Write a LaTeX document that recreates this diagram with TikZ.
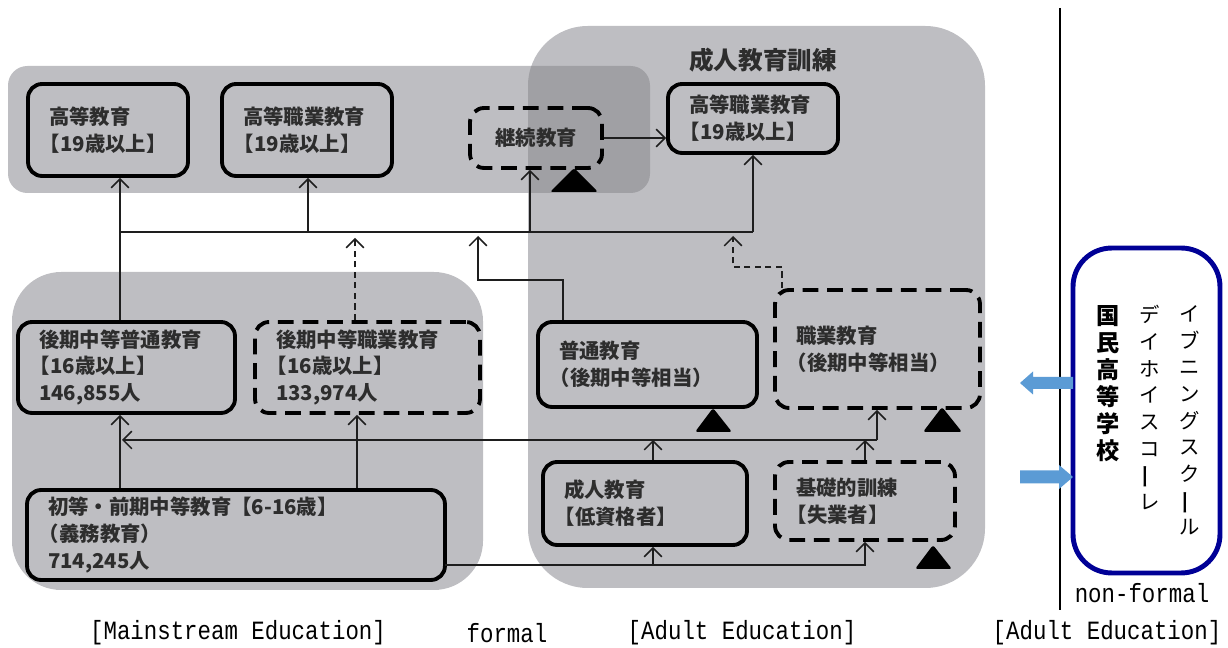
\documentclass[tikz,border=0pt]{standalone}
\usepackage{fontspec}
\usepackage{graphicx}
\usetikzlibrary{arrows.meta}
\newfontfamily\jp{Noto Sans CJK JP}
\newfontfamily\labfont{Liberation Mono}[FakeStretch=0.85]
\hfuzz=40pt \hbadness=10000
\definecolor{bgA}{RGB}{190,190,194}
\definecolor{bgB}{RGB}{160,160,164}
\definecolor{txt}{RGB}{45,45,45}
\definecolor{lk}{RGB}{30,30,30}
\definecolor{navyb}{RGB}{0,0,150}
\definecolor{arrb}{RGB}{91,155,213}
\newcommand\lb{\leavevmode\kern-0.45em}
\newcommand\vbar{\rotatebox[origin=c]{90}{\scalebox{1.25}[1.3]{ー}}}
\tikzset{
  sbox/.style={draw=black, line width=2.2pt, rounded corners=8pt, align=left,
    inner xsep=0.42cm, font=\jp\bfseries\fontsize{11.6}{15.3}\selectfont, text=txt},
  dbox/.style={sbox, dash pattern=on 9pt off 5pt},
  plain/.style={line width=0.9pt, draw=lk},
  link/.style={plain, -{Straight Barb[length=5pt,width=10pt,line width=0.9pt]}},
  dlink/.style={link, dash pattern=on 3.5pt off 2.5pt},
  tri/.style={fill=black, rounded corners=1.5pt},
  lab/.style={font=\labfont\fontsize{15}{18}\selectfont, text=black, inner sep=0pt},
  vcol/.style={font=\jp\fontsize{11.6}{15.2}\selectfont, align=center, anchor=north, inner sep=0pt, text=black},
}
\begin{document}
\begin{tikzpicture}[x=0.02cm,y=-0.02cm]
\useasboundingbox (0,0) rectangle (1228,648);
% backgrounds
\fill[bgA, rounded corners=11pt] (8,66) rectangle (650,193);
\fill[bgA, rounded corners=34pt] (528,26) rectangle (985,588);
\fill[bgA, rounded corners=28pt] (12,272) rectangle (483,590);
\begin{scope}
  \clip[rounded corners=34pt] (528,26) rectangle (985,588);
  \fill[bgB, rounded corners=11pt] (8,66) rectangle (650,193);
\end{scope}
\node[font=\jp\bfseries\fontsize{14}{16}\selectfont, text=txt] (title) at (763,60) {成人教育訓練};
% boxes
\node[sbox, minimum width=3.2cm, minimum height=1.84cm, text width=2.36cm] (hedu) at (108,130) {高等教育\\\lb【19歳以上】};
\node[sbox, minimum width=3.4cm, minimum height=1.84cm, text width=2.56cm] (hvoc) at (307,130) {高等職業教育\\\lb【19歳以上】};
\node[dbox, minimum width=2.64cm, minimum height=1.2cm, align=center] (cont) at (536,138) {継続教育};
\node[sbox, minimum width=3.4cm, minimum height=1.38cm, text width=2.56cm] (avoc) at (753,118.5) {高等職業教育\\\lb【19歳以上】};
\node[sbox, minimum width=4.34cm, minimum height=1.82cm, text width=3.5cm] (usg) at (126.5,367.5) {後期中等普通教育\\\lb【16歳以上】\\146,855人};
\node[dbox, minimum width=4.5cm, minimum height=1.82cm, text width=3.66cm] (usv) at (367.5,367.5) {後期中等職業教育\\\lb【16歳以上】\\133,974人};
\node[sbox, minimum width=8.36cm, minimum height=1.8cm, text width=7.52cm] (prim) at (236,535) {初等・前期中等教育【6-16歳】\\\lb（義務教育）\\714,245人};
\node[sbox, minimum width=4.38cm, minimum height=1.7cm, text width=3.54cm] (gen) at (647.5,364.5) {普通教育\\\lb（後期中等相当）};
\node[dbox, minimum width=4.1cm, minimum height=2.36cm, text width=3.26cm] (voc) at (877.5,349) {職業教育\\\lb（後期中等相当）};
\node[sbox, minimum width=4.08cm, minimum height=1.66cm, text width=3.24cm] (adult) at (645,503.5) {成人教育\\\lb【低資格者】};
\node[dbox, minimum width=3.6cm, minimum height=1.56cm, text width=2.76cm] (basic) at (865,501) {基礎的訓練\\\lb【失業者】};
% triangles
\fill[tri] (550,192) -- (598,192) -- (574,168) -- cycle;
\fill[tri] (695,432) -- (732,432) -- (713,408) -- cycle;
\fill[tri] (923,432) -- (962,432) -- (942,407) -- cycle;
\fill[tri] (915,569) -- (952,569) -- (933,545) -- cycle;
% coordinates
\coordinate (b1) at (120,232);
\coordinate (b2) at (308,232);
\coordinate (b3) at (530,232);
\coordinate (b4) at (753,232);
\coordinate (d1) at (355,238);
\coordinate (g1) at (563,280);
\coordinate (g2) at (478,280);
\coordinate (g3) at (478,236);
\coordinate (v1) at (782,267);
\coordinate (v2) at (733,267);
\coordinate (v3) at (733,236);
\coordinate (m0) at (122,440);
\coordinate (m1) at (877,440);
\coordinate (a1) at (653,440);
\coordinate (k1) at (865,440);
\coordinate (p2) at (357,450);
\coordinate (q0) at (445,565);
\coordinate (q1) at (865,565);
% upper connectors
\draw[plain] (b1 |- usg.north) -- (b1) -- (b4);
\draw[link] (b1) -- (b1 |- hedu.south);
\draw[link] (b2) -- (b2 |- hvoc.south);
\draw[link] (b3) -- (b3 |- cont.south);
\draw[link] (b4) -- (b4 |- avoc.south);
\draw[dlink] (d1 |- usv.north) -- (d1);
\draw[link] (g1 |- gen.north) -- (g1) -- (g2) -- (g3);
\draw[dlink] (v1 |- voc.north) -- (v1) -- (v2) -- (v3);
\draw[link] (cont.east) -- (avoc.west |- cont.east);
% lower connectors
\draw[link] (b1 |- prim.north) -- (b1 |- usg.south);
\draw[link] (p2 |- prim.north) -- (p2 |- usv.south);
\draw[link] (m1) -- (m0);
\draw[link] (m1) -- (m1 |- voc.south);
\draw[link] (a1 |- adult.north) -- (a1);
\draw[link] (k1 |- basic.north) -- (k1);
\draw[link] (q0) -- (q1) -- (q1 |- basic.south);
\draw[link] (a1 |- q0) -- (a1 |- adult.south);
% right side
\draw[line width=1.6pt] (1060,8) -- (1060,610);
\node[draw=navyb, line width=2.8pt, rounded corners=22pt, minimum width=2.94cm, minimum height=6.5cm] (nf) at (1146.5,410.5) {};
\node[vcol, font=\jp\bfseries\fontsize{13.2}{15.4}\selectfont] (c1) at (1108,305) {国\\民\\高\\等\\学\\校};
\node[vcol] (c2) at (1150,305) {デ\\イ\\ホ\\イ\\ス\\コ\\\vbar\\レ};
\node[vcol] (c3) at (1190,305) {イ\\ブ\\ニ\\ン\\グ\\ス\\ク\\\vbar\\ル};
\fill[arrb] (1020,383) -- (1033,371.5) -- (1033,377) -- (1073,377) -- (1073,389) -- (1033,389) -- (1033,394.5) -- cycle;
\fill[arrb] (1073,477) -- (1059,465) -- (1059,470.5) -- (1020,470.5) -- (1020,483.5) -- (1059,483.5) -- (1059,489) -- cycle;
% labels
\node[lab] (l1) at (238,633) {[Mainstream Education]};
\node[lab] (l2) at (507,633) {formal};
\node[lab] (l3) at (742,633) {[Adult Education]};
\node[lab] (l4) at (1107,633) {[Adult Education]};
\node[lab] (l5) at (1142,593) {non-formal};
\end{tikzpicture}
\end{document}
